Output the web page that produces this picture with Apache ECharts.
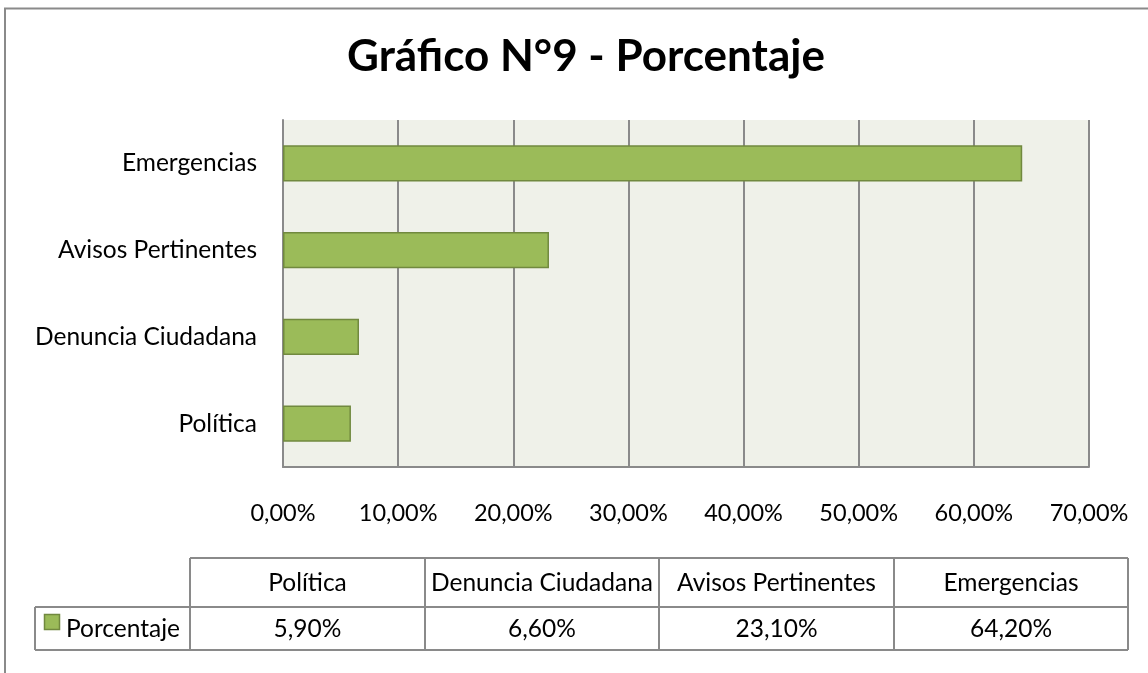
<!DOCTYPE html>
<html>
<head>
<meta charset="utf-8">
<script src="https://cdn.jsdelivr.net/npm/echarts@6/dist/echarts.min.js"></script>
<style>
html,body{margin:0;padding:0;background:#fff;}
#main{width:1148px;height:673px;}
</style>
</head>
<body>
<div id="main"></div>
<script>
const title = 'Gráfico N°9 - Porcentaje';
const categories = ['Política', 'Denuncia Ciudadana', 'Avisos Pertinentes', 'Emergencias'];
const values = [5.9, 6.6, 23.1, 64.2];
const seriesName = 'Porcentaje';
const xTicks = [0, 10, 20, 30, 40, 50, 60, 70];

const FONT = 'Lato';
const fmt = (v) => v.toFixed(2).replace('.', ',') + '%';
const barColor = '#9bbb59';
const barBorder = '#71893f';
const lineGray = '#8a8a8a';

const chart = echarts.init(document.getElementById('main'), null, {renderer: 'canvas'});

// data table built from the arrays
const colEdges = [190, 425, 659, 894, 1128];
const rowTop = 558, rowMid = 607, rowBot = 650, legLeft = 35;
const TFS = 24.5;
const g = [];
// outer border
g.push({type: 'rect', shape: {x: 5, y: 8.5, width: 1200, height: 720}, style: {fill: 'none', stroke: '#8a8a8a', lineWidth: 2}, silent: true});
// table lines
const ls = {stroke: lineGray, lineWidth: 2};
g.push({type: 'line', shape: {x1: colEdges[0], y1: rowTop, x2: colEdges[4], y2: rowTop}, style: ls});
g.push({type: 'line', shape: {x1: legLeft, y1: rowMid, x2: colEdges[4], y2: rowMid}, style: ls});
g.push({type: 'line', shape: {x1: legLeft, y1: rowBot, x2: colEdges[4], y2: rowBot}, style: ls});
g.push({type: 'line', shape: {x1: legLeft, y1: rowMid, x2: legLeft, y2: rowBot}, style: ls});
colEdges.forEach(x => g.push({type: 'line', shape: {x1: x, y1: rowTop, x2: x, y2: rowBot}, style: ls}));
categories.forEach((c, i) => {
  const cx = (colEdges[i] + colEdges[i + 1]) / 2;
  g.push({type: 'text', x: cx, y: (rowTop + rowMid) / 2 + 1, style: {text: c, font: TFS + 'px ' + FONT, fill: '#000', textAlign: 'center', textVerticalAlign: 'middle'}});
  g.push({type: 'text', x: cx, y: (rowMid + rowBot) / 2 + 1, style: {text: fmt(values[i]), font: TFS + 'px ' + FONT, fill: '#000', textAlign: 'center', textVerticalAlign: 'middle'}});
});
// legend key
g.push({type: 'rect', shape: {x: 44.5, y: 614.5, width: 15, height: 15}, style: {fill: barColor, stroke: barBorder, lineWidth: 1.5}});
g.push({type: 'text', x: 66, y: (rowMid + rowBot) / 2 + 1, style: {text: seriesName, font: TFS + 'px ' + FONT, fill: '#000', textAlign: 'left', textVerticalAlign: 'middle'}});

const option = {
  animation: false,
  title: {
    text: title, left: 581, textAlign: 'center', top: 30,
    textStyle: {fontFamily: FONT, fontWeight: 'bold', fontSize: 44, color: '#000'}
  },
  grid: {left: 283, right: 59, top: 120, bottom: 206, show: true, backgroundColor: '#eff1e9', borderWidth: 0},
  xAxis: {
    type: 'value', min: 0, max: 70, interval: 10,
    axisLine: {show: true, lineStyle: {color: lineGray, width: 2}},
    axisTick: {show: false},
    splitLine: {show: true, lineStyle: {color: lineGray, width: 2}},
    axisLabel: {margin: 34, fontFamily: FONT, fontSize: 23.5, color: '#000', formatter: (v) => fmt(v),
      customValues: xTicks}
  },
  yAxis: {
    type: 'category', data: categories,
    axisLine: {show: true, lineStyle: {color: lineGray, width: 2}},
    axisTick: {show: false},
    axisLabel: {margin: 26, fontFamily: FONT, fontSize: 24.5, color: '#000'}
  },
  series: [{
    name: seriesName, type: 'bar', data: values, barCategoryGap: '58%',
    itemStyle: {color: barColor, borderColor: barBorder, borderWidth: 1.5}
  }],
  graphic: g
};
chart.setOption(option);
</script>
</body>
</html>
